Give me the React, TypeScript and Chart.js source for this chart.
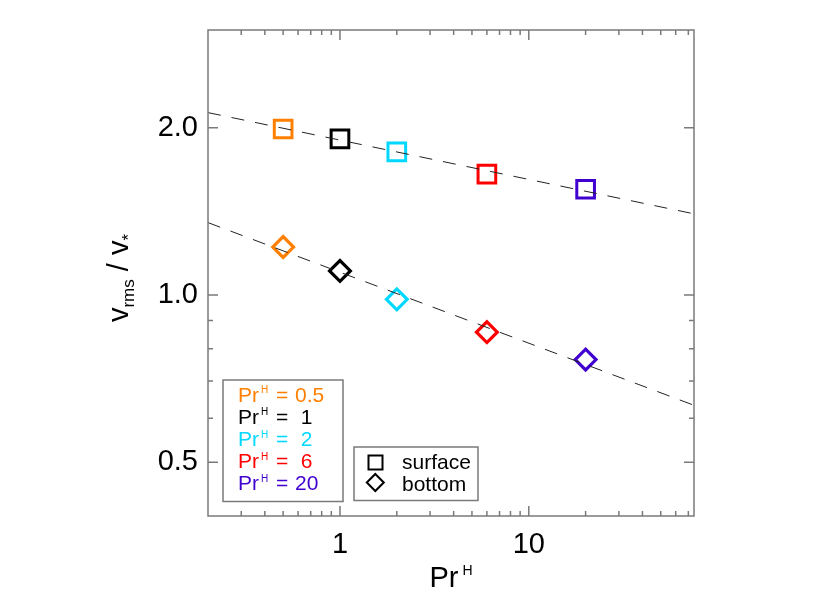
import { useEffect, useRef } from 'react';
import { Chart, registerables } from 'chart.js';

Chart.register(...registerables);

// Pr^H runs, one colour each
const prValues = [0.5, 1, 2, 6, 20];
const prLabels = ['0.5', ' 1', ' 2', ' 6', '20'];
const prColors = ['#ff8000', '#000000', '#00d8ff', '#ff0000', '#4000d0'];

// v_rms / v_* at the surface (squares) and at the bottom (diamonds)
const surfaceValues = [1.99, 1.91, 1.81, 1.65, 1.55];
const bottomValues = [1.22, 1.105, 0.982, 0.857, 0.765];

// dashed power-law fits, end points at the plot edges
const fitX = [0.2, 75];
const surfaceFit = [2.13, 1.4];
const bottomFit = [1.35, 0.633];

// axes
const xMajorTicks = [1, 10];
const xTickLabels = ['1', '10'];
const xMinorTicks = [0.3, 0.4, 0.5, 0.6, 0.7, 0.8, 0.9, 2, 3, 4, 5, 6, 7, 8, 9, 20, 30, 40, 50, 60, 70];
const yMajorTicks = [0.5, 1, 2];
const yTickLabels = ['0.5', '1.0', '2.0'];
const yMinorTicks = [0.6, 0.7, 0.8, 0.9];

const FONT = "'Liberation Sans', Arial, Helvetica, sans-serif";
const FRAME = '#7a7a7a';

const font = (size: number) => `${size}px ${FONT}`;

// frame with inward ticks, axis titles and the two legend boxes
const decorPlugin = {
  id: 'decor',
  afterDraw(chart: any) {
    const { ctx, chartArea: a, scales } = chart;
    const xs = scales.x;
    const ys = scales.y;
    ctx.save();

    ctx.strokeStyle = FRAME;
    ctx.lineWidth = 1.5;
    ctx.strokeRect(a.left, a.top, a.right - a.left, a.bottom - a.top);

    const xTick = (vals: number[], len: number) => {
      vals.forEach((v) => {
        const px = xs.getPixelForValue(v);
        ctx.beginPath();
        ctx.moveTo(px, a.bottom);
        ctx.lineTo(px, a.bottom - len);
        ctx.moveTo(px, a.top);
        ctx.lineTo(px, a.top + len);
        ctx.stroke();
      });
    };
    const yTick = (vals: number[], len: number) => {
      vals.forEach((v) => {
        const py = ys.getPixelForValue(v);
        ctx.beginPath();
        ctx.moveTo(a.left, py);
        ctx.lineTo(a.left + len, py);
        ctx.moveTo(a.right, py);
        ctx.lineTo(a.right - len, py);
        ctx.stroke();
      });
    };
    xTick(xMajorTicks, 10);
    xTick(xMinorTicks, 5);
    yTick(yMajorTicks, 10);
    yTick(yMinorTicks, 5);

    // x title: Pr^H
    ctx.fillStyle = '#000';
    ctx.textBaseline = 'alphabetic';
    ctx.textAlign = 'left';
    ctx.font = font(29);
    const wPr = ctx.measureText('Pr').width;
    ctx.font = font(14);
    const wH = ctx.measureText('H').width;
    const x0 = (a.left + a.right) / 2 - (wPr + 4 + wH) / 2;
    ctx.font = font(29);
    ctx.fillText('Pr', x0, 587);
    ctx.font = font(14);
    ctx.fillText('H', x0 + wPr + 4, 575);

    // y title: v_rms / v_*
    const parts: [string, number, number][] = [
      ['v', 29, 0],
      ['rms', 17, 6],
      [' / ', 29, 0],
      ['v', 29, 0],
      ['*', 17, 6],
    ];
    let total = 0;
    parts.forEach(([t, s]) => {
      ctx.font = font(s);
      total += ctx.measureText(t).width;
    });
    ctx.save();
    ctx.translate(128, 278);
    ctx.rotate(-Math.PI / 2);
    let cx = -total / 2;
    parts.forEach(([t, s, dy]) => {
      ctx.font = font(s);
      ctx.fillText(t, cx, dy);
      cx += ctx.measureText(t).width;
    });
    ctx.restore();

    // legend of Pr^H values
    ctx.strokeStyle = FRAME;
    ctx.lineWidth = 1.5;
    ctx.strokeRect(223, 380, 120, 121.5);
    prLabels.forEach((lab, i) => {
      const by = 402 + i * 22.1;
      ctx.fillStyle = prColors[i];
      ctx.font = font(21);
      ctx.fillText('Pr', 238, by);
      ctx.font = font(10);
      ctx.fillText('H', 261, by - 8.7);
      ctx.font = font(21);
      ctx.fillText('=', 276, by);
      ctx.fillText(lab, 295, by);
    });

    // legend of symbols
    ctx.strokeRect(354, 447, 124, 53.5);
    ctx.strokeStyle = '#000';
    ctx.lineWidth = 2;
    ctx.strokeRect(375.5 - 7, 462.5 - 7, 14, 14);
    ctx.beginPath();
    ctx.moveTo(375.3, 482.5 - 8.5);
    ctx.lineTo(375.3 + 8.5, 482.5);
    ctx.lineTo(375.3, 482.5 + 8.5);
    ctx.lineTo(375.3 - 8.5, 482.5);
    ctx.closePath();
    ctx.stroke();
    ctx.fillStyle = '#000';
    ctx.font = font(21);
    ctx.fillText('surface', 402, 469);
    ctx.fillText('bottom', 402, 490.7);

    ctx.restore();
  },
};

const App = () => {
  const chartRef = useRef<HTMLCanvasElement>(null);
  const chartInstance = useRef<Chart | null>(null);

  useEffect(() => {
    if (!chartRef.current) return;
    if (chartInstance.current) chartInstance.current.destroy();

    const toPoints = (xv: number[], yv: number[]) => xv.map((x, i) => ({ x, y: yv[i] }));

    chartInstance.current = new Chart(chartRef.current, {
      type: 'scatter',
      data: {
        datasets: [
          {
            label: 'surface fit',
            data: toPoints(fitX, surfaceFit),
            showLine: true,
            borderColor: '#222',
            borderWidth: 1,
            borderDash: [13, 11],
            pointRadius: 0,
            order: 0,
          },
          {
            label: 'bottom fit',
            data: toPoints(fitX, bottomFit),
            showLine: true,
            borderColor: '#222',
            borderWidth: 1,
            borderDash: [13, 11],
            pointRadius: 0,
            order: 0,
          },
          {
            label: 'surface',
            data: toPoints(prValues, surfaceValues),
            pointStyle: 'rect',
            pointRadius: 12.5,
            pointBorderWidth: 3,
            pointBorderColor: prColors,
            pointBackgroundColor: 'rgba(0,0,0,0)',
            order: 1,
          },
          {
            label: 'bottom',
            data: toPoints(prValues, bottomValues),
            pointStyle: 'rectRot',
            pointRadius: 10.4,
            pointBorderWidth: 3.2,
            pointBorderColor: prColors,
            pointBackgroundColor: 'rgba(0,0,0,0)',
            order: 1,
          },
        ],
      },
      options: {
        animation: false,
        responsive: true,
        maintainAspectRatio: false,
        layout: { padding: { top: 30, right: 136, bottom: 0, left: 0 } },
        plugins: {
          legend: { display: false },
          tooltip: { enabled: false },
        },
        scales: {
          x: {
            type: 'logarithmic',
            min: 0.2,
            max: 75,
            grid: { display: false, drawTicks: false },
            border: { display: false },
            afterBuildTicks: (scale: any) => {
              scale.ticks = [...xMajorTicks, ...xMinorTicks].sort((p, q) => p - q).map((value) => ({ value }));
            },
            afterFit: (scale: any) => {
              scale.height = 91;
            },
            ticks: {
              autoSkip: false,
              maxRotation: 0,
              padding: 12,
              color: '#000',
              font: { family: FONT, size: 29 },
              callback: (value: any) => {
                const i = xMajorTicks.indexOf(Number(value));
                return i >= 0 ? xTickLabels[i] : '';
              },
            },
          },
          y: {
            type: 'logarithmic',
            min: 0.4,
            max: 3.0,
            grid: { display: false, drawTicks: false },
            border: { display: false },
            afterBuildTicks: (scale: any) => {
              scale.ticks = [...yMajorTicks, ...yMinorTicks].sort((p, q) => p - q).map((value) => ({ value }));
            },
            afterFit: (scale: any) => {
              scale.width = 208;
            },
            ticks: {
              autoSkip: false,
              padding: 10,
              color: '#000',
              font: { family: FONT, size: 29 },
              callback: (value: any) => {
                const i = yMajorTicks.indexOf(Number(value));
                return i >= 0 ? yTickLabels[i] : '';
              },
            },
          },
        },
      },
      plugins: [decorPlugin],
    });

    return () => {
      if (chartInstance.current) {
        chartInstance.current.destroy();
        chartInstance.current = null;
      }
    };
  }, []);

  return (
    <div style={{ position: 'absolute', left: 0, top: 0, width: 830, height: 607, background: '#fff' }}>
      <canvas ref={chartRef} />
    </div>
  );
};

export default App;
